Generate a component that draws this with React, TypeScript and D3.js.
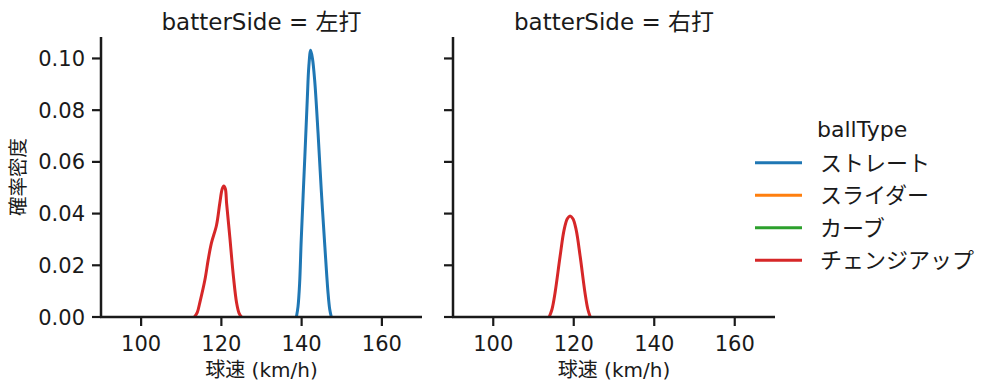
import React from 'react';
import * as d3 from 'd3';

// ball types in legend order, with their colours
const ballTypes = ['ストレート', 'スライダー', 'カーブ', 'チェンジアップ'];
const ballColors = ['#1f77b4', '#ff7f0e', '#2ca02c', '#d62728'];

const panels = ['左打', '右打'];

// KDE curves: [speed km/h, density]
const leftStraight: [number, number][] = [
	[138.7, 0], [139.1, 0.004], [139.5, 0.013], [139.9, 0.0298], [140.8, 0.062],
	[141.4, 0.0839], [141.8, 0.097], [142.25, 0.1032], [142.7, 0.1], [143.25, 0.0916],
	[144.1, 0.071], [144.9, 0.049], [145.8, 0.027], [146.6, 0.009], [147.0, 0.003], [147.4, 0],
];
const leftChangeup: [number, number][] = [
	[113.3, 0], [114.0, 0.0018], [114.6, 0.0054], [115.9, 0.0144], [116.7, 0.022],
	[117.5, 0.0285], [118.8, 0.0356], [119.6, 0.044], [120.2, 0.0495], [120.6, 0.0507],
	[121.0, 0.0495], [121.3, 0.044], [122.1, 0.031], [123.0, 0.0157], [123.8, 0.0054],
	[124.4, 0.0015], [125.0, 0],
];
const rightChangeup: [number, number][] = [
	[113.9, 0], [114.6, 0.003], [115.35, 0.0093], [116.6, 0.0234], [117.6, 0.0337],
	[118.4, 0.038], [119.08, 0.0391], [119.8, 0.038], [120.6, 0.0337], [121.6, 0.0234],
	[122.8, 0.0093], [123.5, 0.003], [124.1, 0],
];

const xTicks = [100, 120, 140, 160];
const yTicks = [0, 0.02, 0.04, 0.06, 0.08, 0.1];

const font = '"DejaVu Sans", "Noto Sans CJK JP", sans-serif';
const ink = '#1a1a1a';

const App = () => {
	const top = 37;
	const bottom = 317;
	const panelX = [[101, 422], [453, 775]];
	const tick = 9;

	const y = d3.scaleLinear().domain([0, 0.1083]).range([bottom, top]);

	const curves = [
		[{ data: leftStraight, color: ballColors[0] }, { data: leftChangeup, color: ballColors[3] }],
		[{ data: rightChangeup, color: ballColors[3] }],
	];

	return (
		<svg width={999} height={391} style={{ position: 'absolute', left: 0, top: 0, background: '#fff' }} fontFamily={font}>
			{panels.map((side, i) => {
				const x = d3.scaleLinear().domain([90, 170]).range(panelX[i]);
				const line = d3
					.line<[number, number]>()
					.x((d) => x(d[0]))
					.y((d) => y(d[1]))
					.curve(d3.curveCatmullRom.alpha(0.5));
				const cx = (panelX[i][0] + panelX[i][1]) / 2;
				return (
					<g key={side}>
						<text x={cx} y={30} textAnchor='middle' fontSize={23} fill={ink}>
							{`batterSide = ${side}`}
						</text>
						{curves[i].map((c, j) => (
							<path key={j} d={line(c.data) || ''} fill='none' stroke={c.color} strokeWidth={3} strokeLinejoin='round' />
						))}
						{/* spines */}
						<line x1={panelX[i][0]} x2={panelX[i][0]} y1={top} y2={bottom + 1} stroke={ink} strokeWidth={2.5} />
						<line x1={panelX[i][0] - 1} x2={panelX[i][1]} y1={bottom} y2={bottom} stroke={ink} strokeWidth={2.5} />
						{xTicks.map((t) => (
							<g key={t}>
								<line x1={x(t)} x2={x(t)} y1={bottom} y2={bottom + tick} stroke={ink} strokeWidth={2.2} />
								<text x={x(t)} y={bottom + 34} textAnchor='middle' fontSize={21} fill={ink}>
									{t}
								</text>
							</g>
						))}
						{yTicks.map((t) => (
							<g key={t}>
								<line x1={panelX[i][0] - tick} x2={panelX[i][0]} y1={y(t)} y2={y(t)} stroke={ink} strokeWidth={2.2} />
								{i === 0 && (
									<text x={panelX[i][0] - tick - 7} y={y(t)} dy='0.36em' textAnchor='end' fontSize={21} fill={ink}>
										{t.toFixed(2)}
									</text>
								)}
							</g>
						))}
						<text x={cx} y={377} textAnchor='middle' fontSize={20} fill={ink}>
							球速 (km/h)
						</text>
					</g>
				);
			})}
			<text transform={`translate(25,${(top + bottom) / 2}) rotate(-90)`} textAnchor='middle' fontSize={19.5} fill={ink}>
				確率密度
			</text>
			{/* legend */}
			<text x={817} y={137} fontSize={22} fill={ink}>
				ballType
			</text>
			{ballTypes.map((b, k) => (
				<g key={b} transform={`translate(0,${162.7 + k * 32.5})`}>
					<line x1={755} x2={802} y1={0} y2={0} stroke={ballColors[k]} strokeWidth={3} />
					<text x={820} y={0} dy='0.36em' fontSize={22} fill={ink}>
						{b}
					</text>
				</g>
			))}
		</svg>
	);
};

export default App;
